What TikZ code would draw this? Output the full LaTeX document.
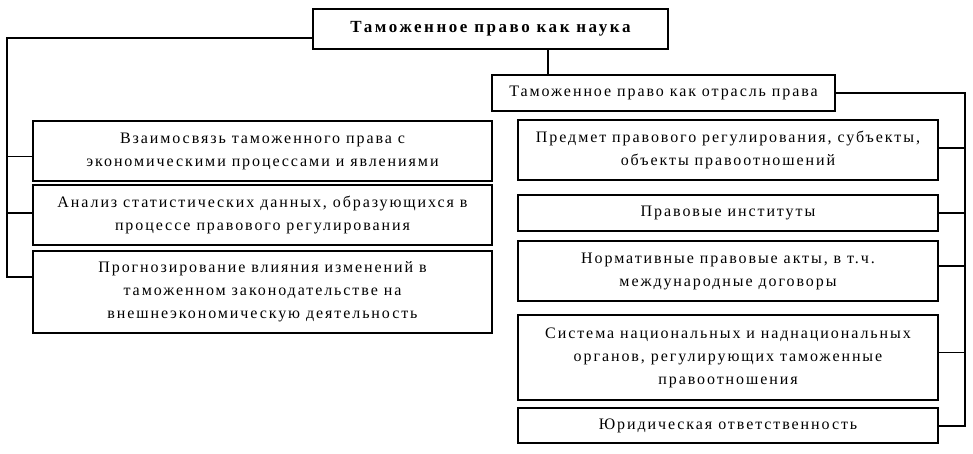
\documentclass[tikz,border=0pt]{standalone}
\usepackage{fontspec}
\setmainfont{Liberation Serif}[LetterSpace=12]
\begin{document}
\begin{tikzpicture}[x=1pt,y=-1pt,
  box/.style={draw, line width=1.5pt, align=center, inner sep=2pt, font=\fontsize{16}{23}\selectfont},
  lbox/.style={box, minimum width=459pt},
  rbox/.style={box, minimum width=420pt},
  conn/.style={line width=1.4pt},
  thin/.style={line width=1pt}]
\useasboundingbox (0,0) rectangle (973,454);
\node[box, minimum width=355pt, minimum height=40pt, font=\bfseries\fontsize{17}{20}\selectfont\addfontfeature{LetterSpace=15}] (top) at (490.5,29) {Таможенное право как наука};
\node[box, minimum width=343pt, minimum height=36pt] (mid) at (663.5,93) {Таможенное право как отрасль права};

\node[lbox, minimum height=60pt] (L1) at (262.5,151) {Взаимосвязь таможенного права с\\экономическими процессами и явлениями};
\node[lbox, minimum height=60pt] (L2) at (262.5,215) {Анализ статистических данных, образующихся в\\процессе правового регулирования};
\node[lbox, minimum height=82pt] (L3) at (262.5,292) {Прогнозирование влияния изменений в\\таможенном законодательстве на\\внешнеэкономическую деятельность};

\node[rbox, minimum height=60pt] (R1) at (728,150) {Предмет правового регулирования, субъекты,\\объекты правоотношений};
\node[rbox, minimum height=36pt] (R2) at (728,213) {Правовые институты};
\node[rbox, minimum height=60pt] (R3) at (728,271) {Нормативные правовые акты, в т.ч.\\международные договоры};
\node[rbox, minimum height=85pt] (R4) at (728,357.5) {Система национальных и наднациональных\\органов, регулирующих таможенные\\правоотношения};
\node[rbox, minimum height=35pt] (R5) at (728,425.5) {Юридическая ответственность};

\coordinate (lt) at (7,38);
\coordinate (l1) at (7,157);
\coordinate (l2) at (7,213);
\coordinate (l3) at (7,277);
\coordinate (tm) at (548,0);
\coordinate (rt) at (965,93);
\coordinate (r1) at (965,148);
\coordinate (r2) at (965,213);
\coordinate (r3) at (965,266);
\coordinate (r4) at (965,352);
\coordinate (r5) at (965,426);

\draw[conn] (top.west |- lt) -- (lt) -- (l3) -- (L3.west |- l3);
\draw[thin] (l1) -- (L1.west |- l1);
\draw[conn] (l2) -- (L2.west |- l2);
\draw[conn] (top.south -| tm) -- (mid.north -| tm);
\draw[conn] (mid.east) -- (rt) -- (r5) -- (R5.east |- r5);
\draw[conn] (r1) -- (R1.east |- r1);
\draw[conn] (r2) -- (R2.east |- r2);
\draw[conn] (r3) -- (R3.east |- r3);
\draw[thin] (r4) -- (R4.east |- r4);
\end{tikzpicture}
\end{document}
